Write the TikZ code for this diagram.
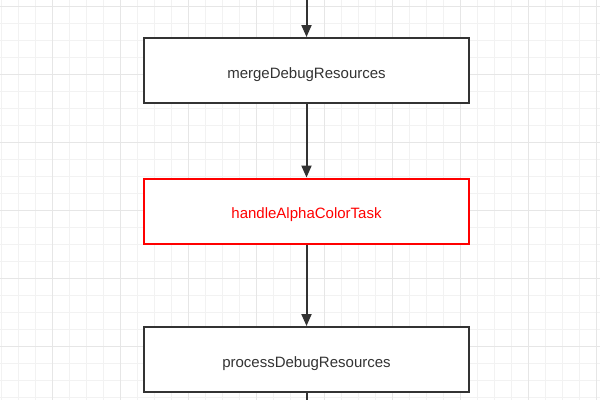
\documentclass[tikz,border=0pt]{standalone}
\usepackage{fontspec}
\setmainfont{Liberation Sans}
\usetikzlibrary{arrows.meta}
\definecolor{minorgrid}{HTML}{F2F2F2}
\definecolor{majorgrid}{HTML}{E6E6E6}
\definecolor{linegray}{HTML}{333333}
\definecolor{textgray}{HTML}{333333}
\tikzset{
  taskbox/.style={draw=linegray, line width=2pt, fill=white, minimum width=325pt, minimum height=65pt, inner sep=0pt, text height=15pt, text depth=0pt, font=\fontsize{15}{18}\selectfont, text=textgray},
  redbox/.style={taskbox, draw=red, text=red},
  flow/.style={draw=linegray, line width=2pt, -{Triangle[length=12pt,width=10pt]}},
  plainflow/.style={draw=linegray, line width=2pt}
}
\begin{document}
\begin{tikzpicture}[x=1pt,y=-1pt]
\useasboundingbox (0,0) rectangle (600,400);
\fill[white] (0,0) rectangle (600,400);
\begin{scope}
\clip (0,0) rectangle (600,400);
\foreach \i in {0,...,36} {
  \draw[minorgrid, line width=1pt] ({1+17*\i},0) -- ({1+17*\i},400);
}
\foreach \j in {0,...,24} {
  \draw[minorgrid, line width=1pt] (0,{6+17*\j}) -- (600,{6+17*\j});
}
\foreach \i in {0,...,9} {
  \draw[majorgrid, line width=1pt] ({52+68*\i},0) -- ({52+68*\i},400);
}
\foreach \j in {0,...,6} {
  \draw[majorgrid, line width=1pt] (0,{6+68*\j}) -- (600,{6+68*\j});
}
\end{scope}
\coordinate (topend) at (306.5,0);
\coordinate (botend) at (306.5,400);
\node[taskbox] (merge) at (306.5,70.5) {mergeDebugResources};
\node[redbox] (alpha) at (306.5,211) {handleAlphaColorTask};
\node[taskbox] (process) at (306.5,359.5) {processDebugResources};
\draw[flow] (topend) -- (merge.north);
\draw[flow] (merge.south) -- (alpha.north);
\draw[flow] (alpha.south) -- (process.north);
\draw[plainflow] (process.south) -- (botend);
\end{tikzpicture}
\end{document}
